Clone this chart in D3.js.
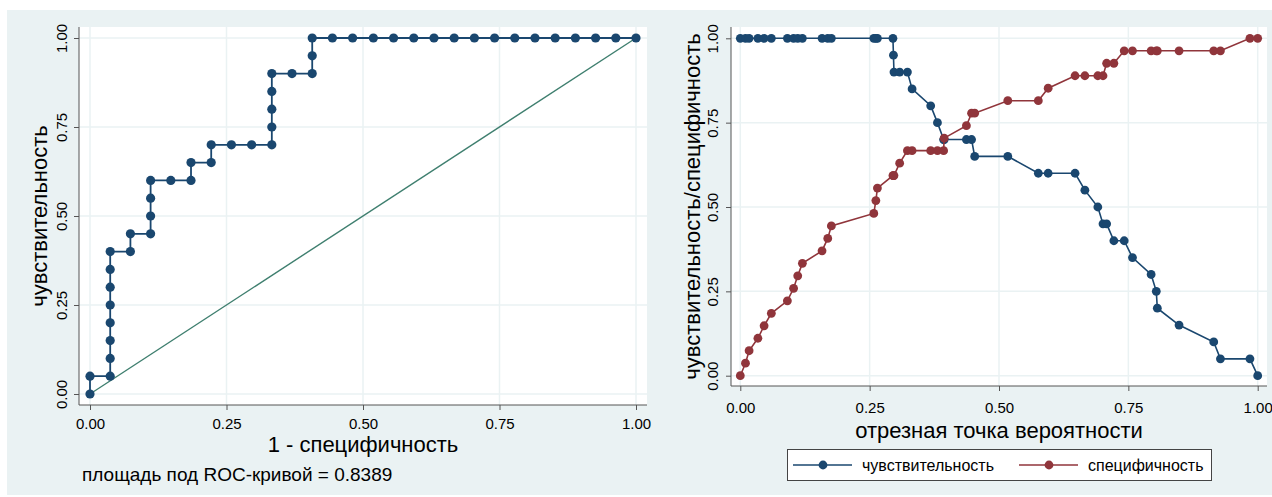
<!DOCTYPE html>
<html>
<head>
<meta charset="utf-8">
<script src="https://cdn.jsdelivr.net/npm/d3@7"></script>
<style>
  body { margin: 0; background: #ffffff; }
  text { font-family: "Liberation Sans", Arial, sans-serif; fill: #000; }
</style>
</head>
<body>
<div id="chart"></div>
<script>
// ROC curve (1 - specificity, sensitivity)
var rocFpr = [0, 0, 0.037, 0.037, 0.037, 0.037, 0.037, 0.037, 0.037, 0.037,
              0.074, 0.074, 0.111, 0.111, 0.111, 0.111, 0.148, 0.185, 0.185, 0.222,
              0.222, 0.259, 0.296, 0.333, 0.333, 0.333, 0.333, 0.333, 0.370, 0.407,
              0.407, 0.407, 0.444, 0.481, 0.519, 0.556, 0.593, 0.630, 0.667, 0.704,
              0.741, 0.778, 0.815, 0.852, 0.889, 0.926, 0.963, 1]
var rocSens = [0, 0.05, 0.05, 0.10, 0.15, 0.20, 0.25, 0.30, 0.35, 0.40,
               0.40, 0.45, 0.45, 0.50, 0.55, 0.60, 0.60, 0.60, 0.65, 0.65,
               0.70, 0.70, 0.70, 0.70, 0.75, 0.80, 0.85, 0.90, 0.90, 0.90,
               0.95, 1, 1, 1, 1, 1, 1, 1, 1, 1,
               1, 1, 1, 1, 1, 1, 1, 1]
var aucText = "площадь под ROC-кривой = 0.8389"

// sensitivity / specificity against probability cutoff
var cutoffs = [0, 0.010, 0.017, 0.034, 0.046, 0.060, 0.091, 0.103, 0.111, 0.120,
               0.158, 0.169, 0.176, 0.258, 0.262, 0.265, 0.295, 0.296, 0.297, 0.308,
               0.323, 0.332, 0.368, 0.381, 0.393, 0.394, 0.437, 0.447, 0.453, 0.517,
               0.576, 0.595, 0.647, 0.666, 0.691, 0.701, 0.708, 0.722, 0.742, 0.758,
               0.794, 0.804, 0.806, 0.848, 0.915, 0.928, 0.985, 1]
var sensVals = [1, 1, 1, 1, 1, 1, 1, 1, 1, 1,
                1, 1, 1, 1, 1, 1, 1, 0.95, 0.90, 0.90,
                0.90, 0.85, 0.80, 0.75, 0.70, 0.70, 0.70, 0.70, 0.65, 0.65,
                0.60, 0.60, 0.60, 0.55, 0.50, 0.45, 0.45, 0.40, 0.40, 0.35,
                0.30, 0.25, 0.20, 0.15, 0.10, 0.05, 0.05, 0]
var specVals = [0, 0.037, 0.074, 0.111, 0.148, 0.185, 0.222, 0.259, 0.296, 0.333,
                0.370, 0.407, 0.444, 0.481, 0.519, 0.556, 0.593, 0.593, 0.593, 0.630,
                0.667, 0.667, 0.667, 0.667, 0.667, 0.704, 0.741, 0.778, 0.778, 0.815,
                0.815, 0.852, 0.889, 0.889, 0.889, 0.889, 0.926, 0.926, 0.963, 0.963,
                0.963, 0.963, 0.963, 0.963, 0.963, 0.963, 1, 1]

var tickVals = [0, 0.25, 0.5, 0.75, 1]
var tickLabels = ["0.00", "0.25", "0.50", "0.75", "1.00"]
var seriesNames = ["чувствительность", "специфичность"]

var blue = "#1a476f"
var red = "#90353b"
var diagColor = "#3f7f6f"
var bg = "#eaf2f3"

var svg = d3.select("#chart").append("svg")
    .attr("width", 1272)
    .attr("height", 497)

// shared light background of both graphs
svg.append("rect")
    .attr("x", 7).attr("y", 10)
    .attr("width", 1265).attr("height", 485)
    .attr("fill", bg)

//draws one panel: white plot area, grid, axes. returns the scales
function makePanel(box, xRange, yRange) {
  var x = d3.scaleLinear().domain([0, 1]).range(xRange)
  var y = d3.scaleLinear().domain([0, 1]).range(yRange)

  svg.append("rect")
      .attr("x", box.left).attr("y", box.top)
      .attr("width", box.right - box.left)
      .attr("height", box.bottom - box.top)
      .attr("fill", "#ffffff")

  //grid lines
  var grid = svg.append("g")
  grid.selectAll(".vg").data(tickVals).enter().append("line")
      .attr("x1", d => x(d)).attr("x2", d => x(d))
      .attr("y1", box.top).attr("y2", box.bottom)
      .attr("stroke", bg).attr("stroke-width", 1.5)
  grid.selectAll(".hg").data(tickVals).enter().append("line")
      .attr("x1", box.left).attr("x2", box.right)
      .attr("y1", d => y(d)).attr("y2", d => y(d))
      .attr("stroke", bg).attr("stroke-width", 1.5)

  //axes
  var xAxis = d3.axisBottom(x).tickValues(tickVals).tickSize(5)
      .tickFormat((d, i) => tickLabels[i])
  var gx = svg.append("g")
      .attr("transform", "translate(0," + box.bottom + ")")
      .call(xAxis)
  gx.select(".domain").attr("d", "M" + box.left + ",0H" + box.right)
  gx.selectAll("line").attr("stroke", "#555")
  gx.select(".domain").attr("stroke", "#555")
  gx.selectAll("text")
      .attr("y", box.xLabel - box.bottom).attr("dy", null)
      .style("font-size", "15px")
      .style("font-family", "Liberation Sans, Arial, sans-serif")

  var yAxis = d3.axisLeft(y).tickValues(tickVals).tickSize(5)
      .tickFormat((d, i) => tickLabels[i])
  var gy = svg.append("g")
      .attr("transform", "translate(" + box.left + ",0)")
      .call(yAxis)
  gy.select(".domain").attr("d", "M0," + box.top + "V" + box.bottom).attr("stroke", "#555")
  gy.selectAll("line").attr("stroke", "#555")
  gy.selectAll("text")
      .attr("x", null).attr("dy", null)
      .attr("transform", "translate(" + (box.yLabel - box.left) + ",0) rotate(-90)")
      .attr("text-anchor", "middle")
      .style("font-size", "15px")
      .style("font-family", "Liberation Sans, Arial, sans-serif")

  return {x: x, y: y}
}

//LEFT: ROC curve
var leftBox = {left: 79, right: 647, top: 27, bottom: 405, xLabel: 429, yLabel: 67}
var sL = makePanel(leftBox, [90, 636], [394, 38])

svg.append("line")
    .attr("x1", sL.x(0)).attr("y1", sL.y(0))
    .attr("x2", sL.x(1)).attr("y2", sL.y(1))
    .attr("stroke", diagColor).attr("stroke-width", 1.4)

var rocPts = rocFpr.map((d, i) => [d, rocSens[i]])
svg.append("path")
    .datum(rocPts)
    .attr("d", d3.line().x(d => sL.x(d[0])).y(d => sL.y(d[1])))
    .attr("fill", "none").attr("stroke", blue).attr("stroke-width", 1.8)
svg.append("g").selectAll("circle").data(rocPts).enter().append("circle")
    .attr("cx", d => sL.x(d[0])).attr("cy", d => sL.y(d[1]))
    .attr("r", 4.6).attr("fill", blue)

svg.append("text").text("чувствительность")
    .attr("transform", "translate(47," + (leftBox.top + leftBox.bottom) / 2 + ") rotate(-90)")
    .attr("text-anchor", "middle").style("font-size", "22px")
svg.append("text").text("1 - специфичность")
    .attr("x", (leftBox.left + leftBox.right) / 2).attr("y", 452)
    .attr("text-anchor", "middle").style("font-size", "22px")
svg.append("text").text(aucText)
    .attr("x", 82).attr("y", 481)
    .style("font-size", "19px")

//RIGHT: sensitivity and specificity vs cutoff
var rightBox = {left: 731, right: 1267, top: 27, bottom: 386, xLabel: 413, yLabel: 718}
var sR = makePanel(rightBox, [740.3, 1257.7], [375.7, 38.3])

var series = [
  {name: seriesNames[0], color: blue, vals: sensVals},
  {name: seriesNames[1], color: red, vals: specVals}
]

series.forEach(function (s) {
  var pts = cutoffs.map((c, i) => [c, s.vals[i]])
  svg.append("path")
      .datum(pts)
      .attr("d", d3.line().x(d => sR.x(d[0])).y(d => sR.y(d[1])))
      .attr("fill", "none").attr("stroke", s.color).attr("stroke-width", 1.6)
  svg.append("g").selectAll("circle").data(pts).enter().append("circle")
      .attr("cx", d => sR.x(d[0])).attr("cy", d => sR.y(d[1]))
      .attr("r", 4.4).attr("fill", s.color)
})

svg.append("text").text("чувствительность/специфичность")
    .attr("transform", "translate(700," + (rightBox.top + rightBox.bottom) / 2 + ") rotate(-90)")
    .attr("text-anchor", "middle").style("font-size", "22px")
svg.append("text").text("отрезная точка вероятности")
    .attr("x", (rightBox.left + rightBox.right) / 2).attr("y", 438)
    .attr("text-anchor", "middle").style("font-size", "22px")

//legend
var legend = svg.append("g")
legend.append("rect")
    .attr("x", 787.5).attr("y", 449.5).attr("width", 424).attr("height", 31)
    .attr("fill", "#ffffff").attr("stroke", "#444").attr("stroke-width", 1)
var legendX = [793, 1019]
series.forEach(function (s, i) {
  var lx = legendX[i]
  legend.append("line")
      .attr("x1", lx).attr("x2", lx + 59).attr("y1", 465).attr("y2", 465)
      .attr("stroke", s.color).attr("stroke-width", 1.6)
  legend.append("circle")
      .attr("cx", lx + 30).attr("cy", 465).attr("r", 4.4).attr("fill", s.color)
  legend.append("text").text(s.name)
      .attr("x", lx + 69).attr("y", 471)
      .style("font-size", "16px")
})
</script>
</body>
</html>
